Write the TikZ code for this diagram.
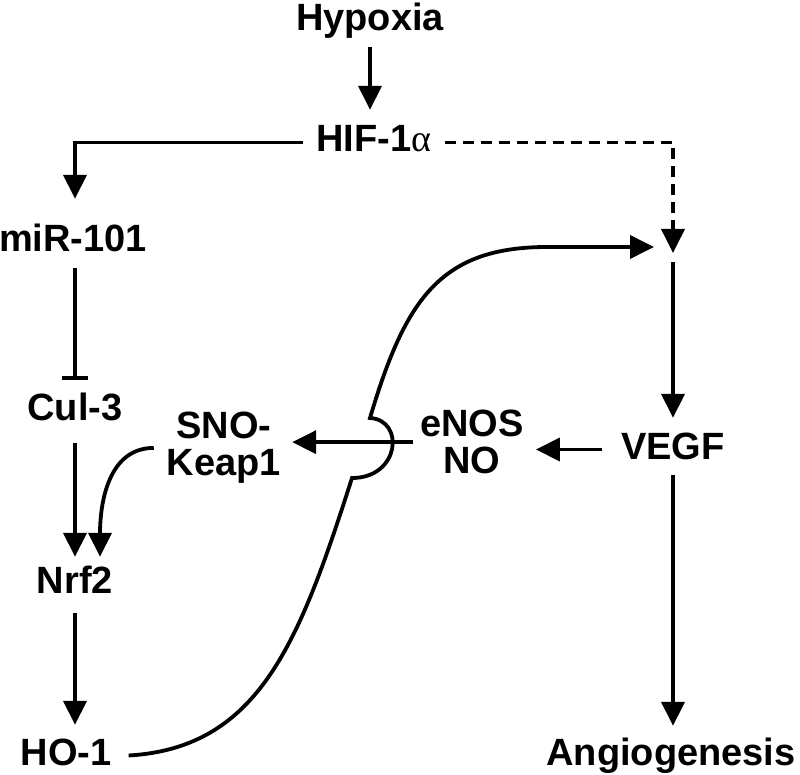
\documentclass[tikz,border=0pt]{standalone}
\usepackage{fontspec}
\setmainfont{Liberation Sans}
\newfontfamily\greekfont{Liberation Serif}
\usetikzlibrary{arrows.meta}
\tikzset{
   gene/.style={font=\bfseries\fontsize{38}{37}\selectfont, inner sep=0pt,
                text height=28pt, text depth=9pt, anchor=base},
   twoline/.style={font=\bfseries\fontsize{38}{37}\selectfont, inner sep=0pt,
                align=center, anchor=north},
   act/.style={line width=3.8pt, -{Triangle[length=24pt,width=23pt]}},
   inh/.style={line width=3.8pt, -{Bar[width=26pt,line width=3.8pt]}},
   weak/.style={act, dash pattern=on 11pt off 7pt}
}

\begin{document}
\begin{tikzpicture}[x=1pt,y=-1pt]
  \useasboundingbox (0,0) rectangle (800,775);
  \node[gene] (hypoxia) at (370,31) {Hypoxia};
  \node[gene] (hif) at (374,152) {HIF-1{\greekfont\mdseries α}};
  \node[gene] (mir) at (73,252) {miR-101};
  \node[gene] (cul) at (75,420) {Cul-3};
  \node[gene] (nrf) at (75,593) {Nrf2};
  \node[gene] (ho) at (66,765) {HO-1};
  \node[gene] (vegf) at (673,459) {VEGF};
  \node[gene] (angio) at (671,765) {Angiogenesis};
  \node[twoline] (sno) at (224,412) {SNO-\\Keap1};
  \node[twoline] (enos) at (472,410) {eNOS\\NO};
  \coordinate (hub) at (673,257);
  \coordinate (vlink) at (654,247);

  \draw[act, shorten <=7pt, shorten >=14pt] (hypoxia.south) -- (hypoxia.south |- hif.north);
  \draw[act, shorten <=13pt, shorten >=25pt] (hif.west) -| (cul.north |- mir.north);
  \draw[weak, shorten <=13pt, shorten >=4pt] (hif.east) -| (hub);
  \draw[inh, shorten <=7pt, shorten >=12pt] (cul.north |- mir.south) -- (cul.north);
  \draw[act, shorten <=14pt, shorten >=8pt] (cul.south) -- (cul.south |- nrf.north);
  \draw[act, shorten <=11pt, shorten >=12pt] (nrf.south) -- (nrf.south |- ho.north);
  \draw[act, shorten <=5pt, shorten >=13pt] (hub) -- (vegf.north);
  \draw[act, shorten <=7pt, shorten >=11pt] (vegf.south) -- (vegf.south |- angio.north);
  \draw[act, shorten <=19pt, shorten >=12pt] (vegf.west) -- (vegf.west -| enos.east);
  \draw[act, shorten <=7pt, shorten >=11pt] (enos.west) -- (enos.west -| sno.east);
  \draw[act] ([xshift=-13pt]sno.west) .. controls +(-45,0) and +(0,-55) .. ([xshift=25pt,yshift=8pt]nrf.north);
  % HO-1 loop, hopping over the eNOS line
  \draw[act] ([xshift=17pt]ho.east) .. controls (260,748) and (300,640) .. (352,478)
    .. controls (400,478) and (405,420) .. (370,418)
    .. controls (405,300) and (440,247) .. (547,247) -- (vlink);
\end{tikzpicture}
\end{document}
